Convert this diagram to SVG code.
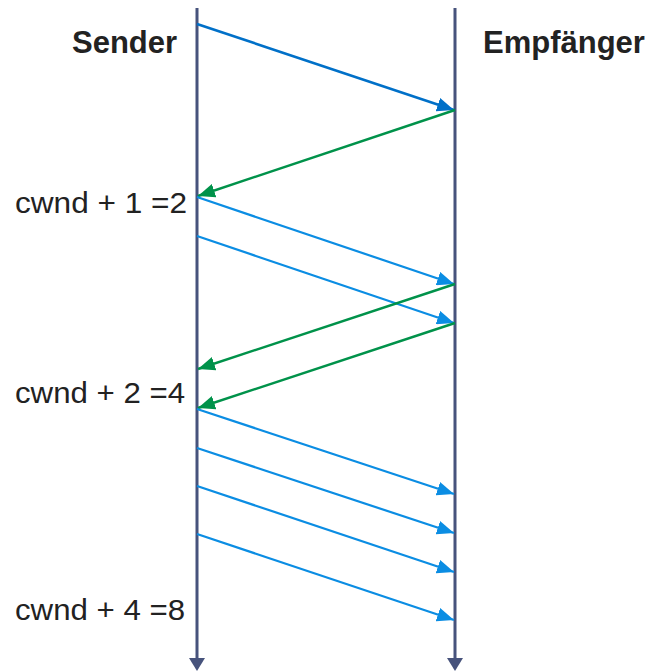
<svg xmlns="http://www.w3.org/2000/svg" width="648" height="671" viewBox="0 0 648 671">
  <style>
    .head { font-family: "Liberation Sans", Arial, sans-serif; font-weight: bold; font-size: 31px; fill: #222; }
    .lbl { font-family: "Liberation Sans", Arial, sans-serif; font-size: 30px; fill: #222; }
    .life { stroke: #47537C; stroke-width: 3; fill: none; }
    .seg { stroke: #0B8DE3; stroke-width: 2.2; fill: none; marker-end: url(#ahBlue); }
    .seg0 { stroke: #0070C8; stroke-width: 2.6; fill: none; marker-end: url(#ahDark); }
    .ack { stroke: #00924A; stroke-width: 2.4; fill: none; marker-end: url(#ahGreen); }
  </style>
  <defs>
    <marker id="ahBlue" markerUnits="userSpaceOnUse" markerWidth="18" markerHeight="14" refX="17" refY="7" orient="auto">
      <path d="M0,0 L17,7 L0,14 Z" fill="#0B8DE3"/>
    </marker>
    <marker id="ahDark" markerUnits="userSpaceOnUse" markerWidth="18" markerHeight="14" refX="17" refY="7" orient="auto">
      <path d="M0,0 L17,7 L0,14 Z" fill="#0070C8"/>
    </marker>
    <marker id="ahGreen" markerUnits="userSpaceOnUse" markerWidth="18" markerHeight="14" refX="17" refY="7" orient="auto">
      <path d="M0,0 L17,7 L0,14 Z" fill="#00924A"/>
    </marker>
  </defs>

  <rect width="648" height="671" fill="#ffffff"/>

  <!-- timelines -->
  <g id="sender">
    <line class="life" x1="197" y1="8" x2="197" y2="658"/>
    <path d="M189,658 L205,658 L197,671 Z" fill="#47537C"/>
    <text class="head" x="72" y="53">Sender</text>
  </g>
  <g id="receiver">
    <line class="life" x1="455" y1="8" x2="455" y2="658"/>
    <path d="M447,658 L463,658 L455,671 Z" fill="#47537C"/>
    <text class="head" x="483" y="53">Empfänger</text>
  </g>

  <!-- window size labels -->
  <g id="cwnd2">
    <text class="lbl" x="15" y="213" textLength="172" lengthAdjust="spacingAndGlyphs">cwnd + 1 =2</text>
  </g>
  <g id="cwnd4">
    <text class="lbl" x="15" y="403" textLength="170" lengthAdjust="spacingAndGlyphs">cwnd + 2 =4</text>
  </g>
  <g id="cwnd8">
    <text class="lbl" x="15" y="620" textLength="170" lengthAdjust="spacingAndGlyphs">cwnd + 4 =8</text>
  </g>

  <!-- segments and acknowledgements -->
  <g id="connectors">
    <line class="seg0" x1="197" y1="24" x2="454" y2="110"/>
    <line class="ack" x1="455" y1="110" x2="198" y2="196"/>
    <line class="seg" x1="197" y1="197" x2="454" y2="284"/>
    <line class="seg" x1="197" y1="236" x2="454" y2="323"/>
    <line class="ack" x1="455" y1="284" x2="198" y2="369"/>
    <line class="ack" x1="455" y1="323" x2="198" y2="408"/>
    <line class="seg" x1="197" y1="409" x2="454" y2="494"/>
    <line class="seg" x1="197" y1="448" x2="454" y2="533"/>
    <line class="seg" x1="197" y1="486" x2="454" y2="572"/>
    <line class="seg" x1="197" y1="534" x2="454" y2="620"/>
  </g>
</svg>
